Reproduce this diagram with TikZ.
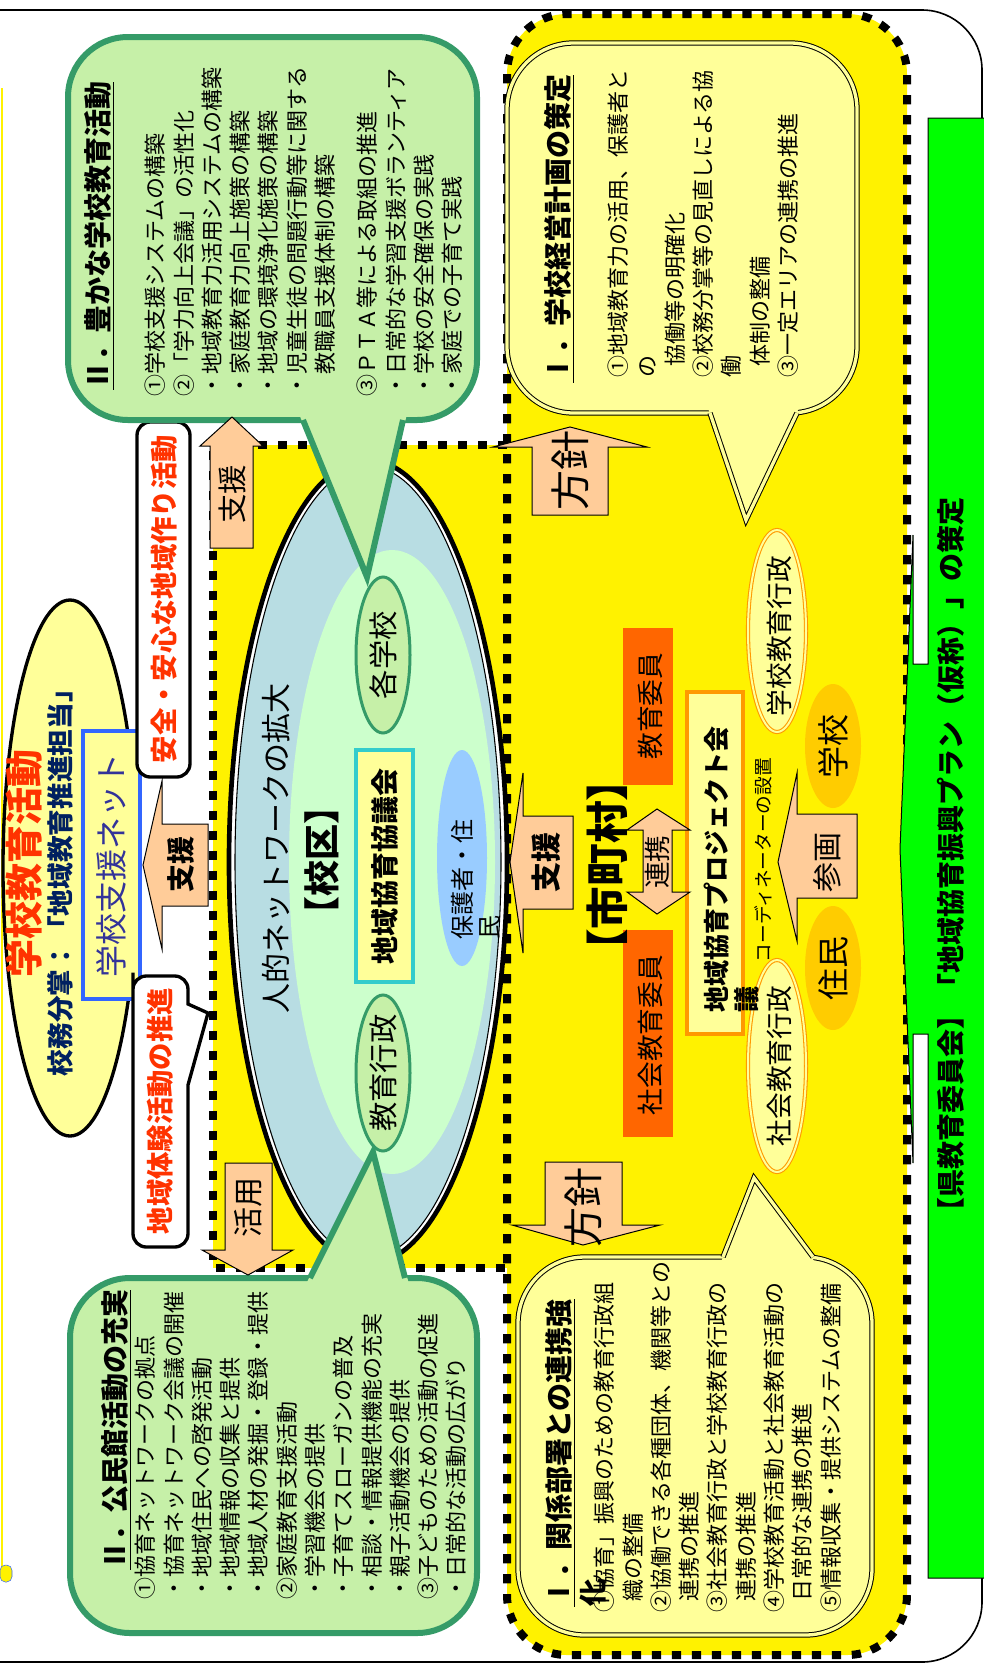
\documentclass[tikz,border=0pt]{standalone}
\usepackage{fontspec}
\setmainfont{Noto Sans CJK JP}
\usepackage{tikz}

\definecolor{callgreen}{RGB}{198,240,168}
\definecolor{callgreenline}{RGB}{53,155,104}
\definecolor{paleyellow}{RGB}{255,255,153}
\definecolor{netblue}{RGB}{184,221,227}
\definecolor{netgreen}{RGB}{204,255,204}
\definecolor{arrowpeach}{RGB}{255,204,153}
\definecolor{titlered}{RGB}{255,51,0}
\definecolor{navytext}{RGB}{0,32,96}
\definecolor{netpurple}{RGB}{51,51,153}
\definecolor{boxblue}{RGB}{51,102,255}
\definecolor{iinorange}{RGB}{255,102,0}
\definecolor{projorange}{RGB}{255,153,0}
\definecolor{goldfill}{RGB}{255,204,0}
\definecolor{parentblue}{RGB}{153,204,255}
\definecolor{councilcyan}{RGB}{51,204,204}
\definecolor{plangreen}{RGB}{0,255,0}

\newcommand{\calloutbody}{\fontsize{16.5pt}{21.2pt}\selectfont}
\newcommand{\callouttitle}{\fontsize{21pt}{25.5pt}\selectfont\bfseries}

\tikzset{
  vtext/.style={rotate=90, inner sep=0pt},
  blockarrow/.style={draw=black, line width=0.75pt, fill=arrowpeach},
  greencall/.style={draw=callgreenline, line width=4.5pt, fill=callgreen},
  greenside/.style={draw=callgreenline, line width=4.5pt},
  yellowcall/.style={draw=black, line width=0.75pt, double=paleyellow, double distance=2.5pt, fill=paleyellow},
  yellowside/.style={draw=black, line width=0.75pt, double=paleyellow, double distance=2.5pt},
  zonedash/.style={line width=6pt, dash pattern=on 7pt off 8pt},
  redbox/.style={draw=black, line width=2.5pt, fill=white, rounded corners=10},
}

\begin{document}
\begin{tikzpicture}[x=0.75pt,y=0.75pt,yscale=-1,xscale=1]
\useasboundingbox (0,0) rectangle (984,1664);

%Frame
\draw[line width=1.2pt, rounded corners=45] (0,10) -- (982,10) -- (982,1662) -- (0,1662);
\draw[draw=boxblue, line width=0.4pt, double=yellow, double distance=1pt] (2,88) -- (2,1568);
\draw[boxblue, fill=yellow, rounded corners=4] (0,1565) rectangle (12,1582);

%Yellow zone
\fill[yellow] (213,445) rectangle (507,1268);
\fill[yellow, rounded corners=45] (507,14) rectangle (907,1655);
\draw[zonedash] (507,445) -- (213,445) -- (213,1268) -- (507,1268);
\draw[zonedash, rounded corners=45] (507,14) rectangle (907,1655);

%Prefecture plan box
\draw[fill=plangreen, line width=0.75pt] (928,118) -- (990,118) -- (990,1578) -- (928,1578) -- (928,1034) -- (913,1034) -- (913,1163) -- (900,849) -- (913,535) -- (913,664) -- (928,664) -- cycle;

%School activity ellipse
\draw[line width=2.5pt, fill=paleyellow] (70,868) ellipse [x radius=67, y radius=268];
\draw[boxblue, line width=3pt, fill=paleyellow] (83,731) rectangle (140,999);

%Red text boxes
\draw[redbox] (137,422) rectangle (190,777);
\draw[redbox, rounded corners=0] (133,986) [rounded corners=10] -- (133,976) -- (188,976) [sharp corners] -- (188,1004) -- (208,1013) -- (188,1085) [rounded corners=10] -- (188,1247) -- (133,1247) -- cycle;

%Network ellipse
\fill[white] (368,862) ellipse [x radius=139, y radius=402];
\fill[netblue] (368,862) ellipse [x radius=133, y radius=396];
\fill[netgreen] (392,862) ellipse [x radius=103, y radius=312];
\draw[line width=3.5pt] (368,862) ellipse [x radius=139, y radius=402];
\draw[line width=0.8pt] (368,862) ellipse [x radius=133, y radius=396];
\draw[callgreenline, line width=2.25pt, fill=callgreen] (383,655) ellipse [x radius=27, y radius=78];
\draw[callgreenline, line width=2.25pt, fill=callgreen] (383,1073) ellipse [x radius=27, y radius=78];
\draw[councilcyan, line width=3pt, fill=paleyellow] (356,750) rectangle (413,982);
\fill[parentblue] (462,858) ellipse [x radius=25, y radius=108];

%City boxes
\fill[iinorange] (623,628) rectangle (673,785);
\fill[iinorange] (623,930) rectangle (673,1137);
\draw[projorange, line width=3pt, fill=paleyellow] (687,692) rectangle (743,1034);
\draw[projorange, line width=0.8pt, double=paleyellow, double distance=1.5pt, fill=paleyellow] (777,631) ellipse [x radius=29, y radius=101];
\draw[projorange, line width=0.8pt, double=paleyellow, double distance=1.5pt, fill=paleyellow] (777,1066) ellipse [x radius=29, y radius=106];
\fill[goldfill] (833,746) ellipse [x radius=28, y radius=62];
\fill[goldfill] (833,968) ellipse [x radius=28, y radius=62];

%Callouts
\draw[greencall, rounded corners=45] (68,37) rectangle (477,420);
\fill[callgreen] (299,414) -- (367,577) -- (407,414) -- cycle;
\draw[greenside] (303,420) -- (367,577) -- (403,420);

\draw[greencall, rounded corners=45] (70,1278) rectangle (477,1633);
\fill[callgreen] (306,1284) -- (373,1152) -- (409,1284) -- cycle;
\draw[greenside] (310,1278) -- (373,1152) -- (405,1278);

\draw[yellowcall, rounded corners=50] (507,43) rectangle (857,413);
\fill[paleyellow] (708,408) -- (746,520) -- (799,408) -- cycle;
\draw[yellowside] (710,413) -- (746,520) -- (797,413);

\draw[yellowcall, rounded corners=50] (518,1257) rectangle (872,1635);
\fill[paleyellow] (721,1262) -- (754,1178) -- (815,1262) -- cycle;
\draw[yellowside] (723,1257) -- (754,1178) -- (813,1257);

%Block arrows
\draw[blockarrow] (143,865) -- (162,781) -- (162,824) -- (208,824) -- (208,906) -- (162,906) -- (162,949) -- cycle;
\draw[blockarrow] (232,417) -- (263,446) -- (253,446) -- (253,548) -- (210,548) -- (210,446) -- (200,446) -- cycle;
\draw[blockarrow] (248,1275) -- (293,1250) -- (272,1250) -- (272,1163) -- (225,1163) -- (225,1250) -- (202,1250) -- cycle;
\draw[blockarrow] (570,427) -- (647,447) -- (608,447) -- (608,515) -- (532,515) -- (532,447) -- (493,447) -- cycle;
\draw[blockarrow] (583,1245) -- (660,1225) -- (622,1225) -- (622,1162) -- (545,1162) -- (545,1225) -- (512,1225) -- cycle;
\draw[blockarrow] (510,862) -- (523,773) -- (523,816) -- (573,816) -- (573,909) -- (523,909) -- (523,953) -- cycle;
\draw[blockarrow] (778,862) -- (797,773) -- (797,814) -- (857,814) -- (857,898) -- (797,898) -- (797,941) -- cycle;
\draw[blockarrow] (657,809) -- (690,830) -- (672,830) -- (672,892) -- (690,892) -- (657,914) -- (627,892) -- (643,892) -- (643,830) -- (627,830) -- cycle;

% Text Node
\node[vtext, text=titlered, font=\fontsize{28.5pt}{30pt}\selectfont\bfseries] (schoolTitle) at (24,863) {学校教育活動};
\node[vtext, text=navytext, font=\fontsize{20pt}{24pt}\selectfont\bfseries] (dutyLabel) at (60,876) {校務分掌：「地域教育推進担当」};
\node[vtext, text=netpurple, font=\fontsize{24pt}{28pt}\selectfont] (netLabel) at (111,865) {学校支援ネット};
\node[vtext, text=titlered, font=\fontsize{20.5pt}{24pt}\selectfont\bfseries] (safeLabel) at (164,599) {安全・安心な地域作り活動};
\node[vtext, text=titlered, font=\fontsize{20.5pt}{24pt}\selectfont\bfseries] (taikenLabel) at (160,1111) {地域体験活動の推進};

\node[vtext, font=\fontsize{22.5pt}{26pt}\selectfont] (networkLabel) at (276,848) {人的ネットワークの拡大};
\node[vtext, font=\fontsize{27pt}{30pt}\selectfont\bfseries] (kokuLabel) at (322,860) {【校区】};
\node[vtext, font=\fontsize{22pt}{26pt}\selectfont] (kakuLabel) at (383,655) {各学校};
\node[vtext, font=\fontsize{22pt}{26pt}\selectfont] (gyouseiLabel) at (383,1073) {教育行政};
\node[vtext, font=\fontsize{21pt}{26pt}\selectfont\bfseries] (councilLabel) at (385,866) {地域協育協議会};
\node[vtext, anchor=north west, align=left, font=\fontsize{18pt}{20pt}\selectfont] (parentLabel) at (451,940) {保護者・住\\民};

\node[vtext, font=\fontsize{32pt}{36pt}\selectfont\bfseries] (cityLabel) at (607,865) {【市町村】};
\node[vtext, font=\fontsize{20pt}{24pt}\selectfont] (iinLabel) at (650,706) {教育委員};
\node[vtext, font=\fontsize{20pt}{24pt}\selectfont] (shakaiIinLabel) at (650,1035) {社会教育委員};
\node[vtext, anchor=north west, align=left, font=\fontsize{19.5pt}{22.5pt}\selectfont\bfseries] (projLabel) at (704,1013) {地域協育プロジェクト会\\議};
\node[vtext, font=\fontsize{14pt}{16pt}\selectfont] (coordLabel) at (763,860) {コーディネーターの設置};
\node[vtext, font=\fontsize{20pt}{24pt}\selectfont] (gakkouGyousei) at (779,636) {学校教育行政};
\node[vtext, font=\fontsize{20pt}{24pt}\selectfont] (shakaiGyousei) at (779,1066) {社会教育行政};
\node[vtext, font=\fontsize{24pt}{28pt}\selectfont] (gakkouLabel) at (833,746) {学校};
\node[vtext, font=\fontsize{24pt}{28pt}\selectfont] (juuminLabel) at (833,968) {住民};

\node[vtext, font=\fontsize{21pt}{25pt}\selectfont\bfseries] (planLabel) at (951,861) {【県教育委員会】「地域協育振興プラン（仮称）」の策定};

% Arrow labels
\node[vtext, font=\fontsize{21pt}{24pt}\selectfont\bfseries] (shienLeft) at (181,864) {支援};
\node[vtext, font=\fontsize{22pt}{24pt}\selectfont] (shienUp) at (232,494) {支援};
\node[vtext, font=\fontsize{22.5pt}{24pt}\selectfont] (katsuyouLabel) at (248,1207) {活用};
\node[vtext, font=\fontsize{30pt}{32pt}\selectfont] (houshinTop) at (570,470) {方針};
\node[vtext, font=\fontsize{30pt}{32pt}\selectfont] (houshinBottom) at (583,1207) {方針};
\node[vtext, font=\fontsize{22.5pt}{24pt}\selectfont\bfseries] (shienMid) at (546,862) {支援};
\node[vtext, font=\fontsize{22.5pt}{24pt}\selectfont] (sankakuLabel) at (827,862) {参画};
\node[vtext, font=\fontsize{20pt}{24pt}\selectfont] (renkeiLabel) at (657,862) {連携};

% Callout texts
\node[vtext, anchor=north west, font=\callouttitle] (yutakaTitle) at (84,390) {\underline{Ⅱ．豊かな学校教育活動}};
\node[vtext, anchor=north west, align=left, font=\calloutbody] (yutakaBody) at (145,397) {①学校支援システムの構築\\
②「学力向上会議」の活性化\\
・地域教育力活用システムの構築\\
・家庭教育力向上施策の構築\\
・地域の環境浄化施策の構築\\
・児童生徒の問題行動等に関する\\
　教職員支援体制の構築\\[10.5pt]
③ＰＴＡ等による取組の推進\\
・日常的な学習支援ボランティア\\
・学校の安全確保の実践\\
・家庭での子育て実践};

\node[vtext, anchor=north west, font=\callouttitle] (kouminTitle) at (101,1570) {\underline{Ⅱ．公民館活動の充実}};
\node[vtext, anchor=north west, align=left, font=\calloutbody] (kouminBody) at (135,1600) {①協育ネットワークの拠点\\
・協育ネットワーク会議の開催\\
・地域住民への啓発活動\\
・地域情報の収集と提供\\
・地域人材の発掘・登録・提供\\
②家庭教育支援活動\\
・学習機会の提供\\
・子育てスローガンの普及\\
・相談・情報提供機能の充実\\
・親子活動機会の提供\\
③子どものための活動の促進\\
・日常的な活動の広がり};

\node[vtext, anchor=north west, font=\callouttitle] (keieiTitle) at (544,383) {\underline{Ⅰ．学校経営計画の策定}};
\node[vtext, anchor=north west, align=left, font=\calloutbody] (keieiBody) at (608,378) {①地域教育力の活用、保護者と\\
の\\
\hspace*{0.5em}協働等の明確化\\
②校務分掌等の見直しによる協\\
働\\
\hspace*{0.5em}体制の整備\\
③一定エリアの連携の推進};

\node[vtext, anchor=north west, align=left, font=\callouttitle] (kankeiTitle) at (545,1607) {\underline{Ⅰ．関係部署との連携強}\\化};
\node[vtext, anchor=north west, align=left, font=\calloutbody] (kankeiBody) at (594,1613) {①協育」振興のための教育行政組\\
\hspace*{0.5em}織の整備\\
②協働できる各種団体、機関等との\\
\hspace*{0.5em}連携の推進\\
③社会教育行政と学校教育行政の\\
\hspace*{0.5em}連携の推進\\
④学校教育活動と社会教育活動の\\
\hspace*{0.5em}日常的な連携の推進\\
⑤情報収集・提供システムの整備};

\end{tikzpicture}
\end{document}
